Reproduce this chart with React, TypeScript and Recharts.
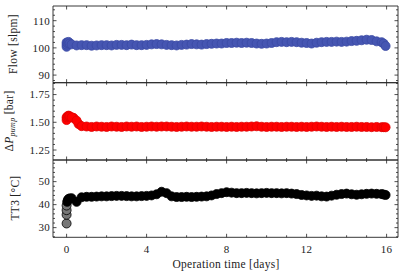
import React from 'react';
import { ScatterChart, Scatter, XAxis, YAxis } from 'recharts';

const W = 410;
const H = 278;
const FONT = '"Liberation Serif", "DejaVu Serif", serif';
const INK = '#222';

// tick labels
const dayTicks = [0, 4, 8, 12, 16];
const dayMinor = [0, 1, 2, 3, 4, 5, 6, 7, 8, 9, 10, 11, 12, 13, 14, 15, 16];
const flowTicks = [90, 100, 110];
const flowMinor = [88, 90, 92, 94, 96, 98, 100, 102, 104, 106, 108, 110, 112, 114];
const dpTicks = [1.25, 1.5, 1.75];
const dpMinor = [1.2, 1.25, 1.3, 1.35, 1.4, 1.45, 1.5, 1.55, 1.6, 1.65, 1.7, 1.75, 1.8, 1.85];
const tt3Ticks = [30, 40, 50];
const tt3Minor = [26, 28, 30, 32, 34, 36, 38, 40, 42, 44, 46, 48, 50, 52, 54, 56, 58];

// operation time [days] shared by the main part of every series
const days = [
  0.25, 0.5, 0.75, 1, 1.25, 1.5, 1.75, 2, 2.25, 2.5, 2.75, 3, 3.25, 3.5, 3.75, 4,
  4.25, 4.5, 4.75, 5, 5.25, 5.5, 5.75, 6, 6.25, 6.5, 6.75, 7, 7.25, 7.5, 7.75, 8,
  8.25, 8.5, 8.75, 9, 9.25, 9.5, 9.75, 10, 10.25, 10.5, 10.75, 11, 11.25, 11.5, 11.75, 12,
  12.25, 12.5, 12.75, 13, 13.25, 13.5, 13.75, 14, 14.25, 14.5, 14.75, 15, 15.25, 15.5, 15.75, 15.85,
  15.95,
];

// Flow [slpm]
const flowStartDays = [0, 0, 0, 0.05, 0.1, 0.15];
const flowStart = [100.4, 101.2, 102.0, 101.8, 102.2, 101.6];
const flow = [
  101.3, 100.9, 101.0, 101.0, 100.8, 100.9, 101.0, 101.0, 100.9, 101.1, 101.1, 101.0, 101.2, 101.0, 101.0, 101.1,
  101.3, 101.4, 101.3, 101.1, 101.0, 100.9, 101.1, 101.2, 101.4, 101.3, 101.2, 101.4, 101.5, 101.6, 101.6, 101.8,
  101.8, 101.9, 101.8, 101.9, 101.8, 101.6, 101.5, 101.6, 101.8, 102.1, 102.2, 102.1, 102.2, 102.1, 101.9, 101.8,
  101.6, 101.9, 102.1, 102.2, 102.2, 102.3, 102.2, 102.3, 102.5, 102.6, 102.8, 103.0, 102.9, 102.4, 102.1, 101.6,
  100.7,
];

// pressure drop over the pump [bar]
const dpStartDays = [0, 0, 0.05, 0.1, 0.15, 0.35, 0.6];
const dpStart = [1.52, 1.545, 1.555, 1.56, 1.555, 1.54, 1.485];
const dp = [
  1.545, 1.515, 1.465, 1.462, 1.458, 1.462, 1.46, 1.458, 1.462, 1.46, 1.458, 1.462, 1.46, 1.462, 1.458, 1.46,
  1.462, 1.46, 1.462, 1.462, 1.46, 1.458, 1.46, 1.462, 1.46, 1.46, 1.462, 1.46, 1.458, 1.46, 1.46, 1.458,
  1.46, 1.458, 1.46, 1.46, 1.462, 1.464, 1.46, 1.458, 1.46, 1.46, 1.458, 1.46, 1.46, 1.458, 1.46, 1.458,
  1.46, 1.462, 1.46, 1.458, 1.46, 1.458, 1.46, 1.458, 1.458, 1.46, 1.458, 1.458, 1.456, 1.458, 1.456, 1.456,
  1.455,
];

// TT3 [°C]
const tt3LoneDays = [0, 0, 0, 0];
const tt3Lone = [31.8, 35.6, 37.6, 39.6];
const tt3StartDays = [0.03, 0.06, 0.1, 0.15];
const tt3Start = [41.2, 42.0, 42.5, 42.7];
const tt3 = [
  42.8, 41.2, 43.2, 43.4, 43.4, 43.5, 43.6, 43.6, 43.7, 43.8, 43.8, 43.7, 43.6, 43.6, 43.7, 43.8,
  44.0, 44.5, 45.6, 45.0, 43.6, 43.3, 43.3, 43.4, 43.3, 43.4, 43.5, 43.6, 44.0, 44.6, 45.0, 45.4,
  45.2, 45.0, 45.0, 45.1, 45.0, 44.9, 45.0, 45.1, 45.0, 45.0, 44.9, 45.0, 44.8, 44.6, 44.2, 44.0,
  43.8, 43.9, 43.6, 43.5, 43.9, 44.3, 44.6, 44.8, 44.5, 44.3, 44.5, 44.7, 44.8, 44.7, 44.6, 44.4,
  44.2,
];

const pts = (d: number[], v: number[]) => d.map((x, i) => ({ x, y: v[i] }));

const near = (v: number, list: number[]) => list.some((m) => Math.abs(m - v) < 1e-6);

function makeTick(side: 'left' | 'right' | 'top' | 'bottom', majors: number[], fmt?: (v: number) => string) {
  return (p: any) => {
    const v = Number(p.payload.value);
    const major = near(v, majors);
    const len = major ? 3.5 : 2;
    const { x, y } = p;
    let l = { x1: x, x2: x, y1: y, y2: y };
    if (side === 'left') l.x2 = x + len;
    if (side === 'right') l.x2 = x - len;
    if (side === 'top') l.y2 = y + len;
    if (side === 'bottom') l.y2 = y - len;
    return (
      <g>
        <line {...l} stroke={INK} strokeWidth={0.8} />
        {fmt && major && side === 'left' && (
          <text x={x - 3} y={y} dy="0.35em" textAnchor="end" fontFamily={FONT} fontSize={11} letterSpacing={0.3} fill={INK}>
            {fmt(v)}
          </text>
        )}
        {fmt && major && side === 'bottom' && (
          <text x={x} y={y + 8} dy="0.71em" textAnchor="middle" fontFamily={FONT} fontSize={11} letterSpacing={0.3} fill={INK}>
            {fmt(v)}
          </text>
        )}
      </g>
    );
  };
}

type Series = { data: { x: number; y: number }[]; fill: string; stroke: string };

function panel(
  top: number,
  bottom: number,
  yDomain: [number, number],
  yMajor: number[],
  yMinor: number[],
  fmt: (v: number) => string,
  showX: boolean,
  series: Series[],
) {
  const axisLine = { stroke: INK, strokeWidth: 0.9 };
  // axes are 1px thick, so the margins are 1px short of the plot edges
  return (
    <div style={{ position: 'absolute', left: 0, top: 0 }}>
      <ScatterChart width={W} height={H} margin={{ top: top - 1, bottom: H - bottom - 1, left: 52, right: 11 }}>
        <XAxis
          xAxisId="b"
          dataKey="x"
          type="number"
          domain={[-0.68, 16.57]}
          allowDataOverflow
          ticks={dayMinor}
          interval={0}
          height={1}
          tickSize={0}
          tickMargin={0}
          tickLine={false}
          axisLine={axisLine}
          tick={makeTick('bottom', dayTicks, showX ? (v) => String(v) : undefined)}
        />
        <XAxis
          xAxisId="t"
          orientation="top"
          dataKey="x"
          type="number"
          domain={[-0.68, 16.57]}
          allowDataOverflow
          ticks={dayMinor}
          interval={0}
          height={1}
          tickSize={0}
          tickMargin={0}
          tickLine={false}
          axisLine={axisLine}
          tick={makeTick('top', dayTicks)}
        />
        <YAxis
          yAxisId="l"
          dataKey="y"
          type="number"
          domain={yDomain}
          allowDataOverflow
          ticks={yMinor}
          interval={0}
          width={1}
          tickSize={0}
          tickMargin={0}
          tickLine={false}
          axisLine={axisLine}
          tick={makeTick('left', yMajor, fmt)}
        />
        <YAxis
          yAxisId="r"
          orientation="right"
          dataKey="y"
          type="number"
          domain={yDomain}
          allowDataOverflow
          ticks={yMinor}
          interval={0}
          width={1}
          tickSize={0}
          tickMargin={0}
          tickLine={false}
          axisLine={axisLine}
          tick={makeTick('right', yMajor)}
        />
        {series.map((s, i) => (
          <Scatter
            key={i}
            xAxisId="b"
            yAxisId="l"
            data={s.data}
            isAnimationActive={false}
            shape={(p: any) => (
              <circle cx={p.cx} cy={p.cy} r={4.5} fill={s.fill} stroke={s.stroke} strokeWidth={0.8} />
            )}
          />
        ))}
      </ScatterChart>
    </div>
  );
}

const yLabel = (cx: number, cy: number, content: React.ReactNode) => (
  <div
    style={{
      position: 'absolute',
      left: cx,
      top: cy,
      transform: 'translate(-50%, -50%) rotate(-90deg)',
      whiteSpace: 'nowrap',
      fontFamily: FONT,
      fontSize: 11.5,
      letterSpacing: 0.3,
      color: INK,
      lineHeight: '12px',
    }}
  >
    {content}
  </div>
);

export default function App() {
  const blue = { fill: '#4656b2', stroke: '#3a49a3' };
  const red = { fill: '#ff0000', stroke: '#e00000' };
  const black = { fill: '#000000', stroke: '#000000' };
  return (
    <div style={{ position: 'absolute', left: 0, top: 0, width: W, height: H, background: '#fff' }}>
      {panel(6, 82.7, [87.2, 115.4], flowTicks, flowMinor, (v) => String(v), false, [
        { data: pts(flowStartDays, flowStart), ...blue },
        { data: pts(days, flow), ...blue },
      ])}
      {panel(82.7, 160, [1.16, 1.857], dpTicks, dpMinor, (v) => v.toFixed(2), false, [
        { data: pts(dpStartDays, dpStart), ...red },
        { data: pts(days, dp), ...red },
      ])}
      {panel(160, 237.3, [25.8, 59.4], tt3Ticks, tt3Minor, (v) => String(v), true, [
        { data: pts(tt3LoneDays, tt3Lone), fill: '#777', stroke: '#000' },
        { data: pts(tt3StartDays, tt3Start), ...black },
        { data: pts(days, tt3), ...black },
      ])}
      {yLabel(13, 44, 'Flow [slpm]')}
      {yLabel(11, 121, (
        <span>
          Δ<i>P</i>
          <sub style={{ fontSize: 8, fontStyle: 'italic', verticalAlign: '-2px' }}>pump</sub> [bar]
        </span>
      ))}
      {yLabel(15, 198, 'TT3 [°C]')}
      <div
        style={{
          position: 'absolute',
          left: 226,
          top: 264,
          transform: 'translate(-50%, -50%)',
          whiteSpace: 'nowrap',
          fontFamily: FONT,
          fontSize: 11.5,
          letterSpacing: 0.3,
          color: INK,
        }}
      >
        Operation time [days]
      </div>
    </div>
  );
}
